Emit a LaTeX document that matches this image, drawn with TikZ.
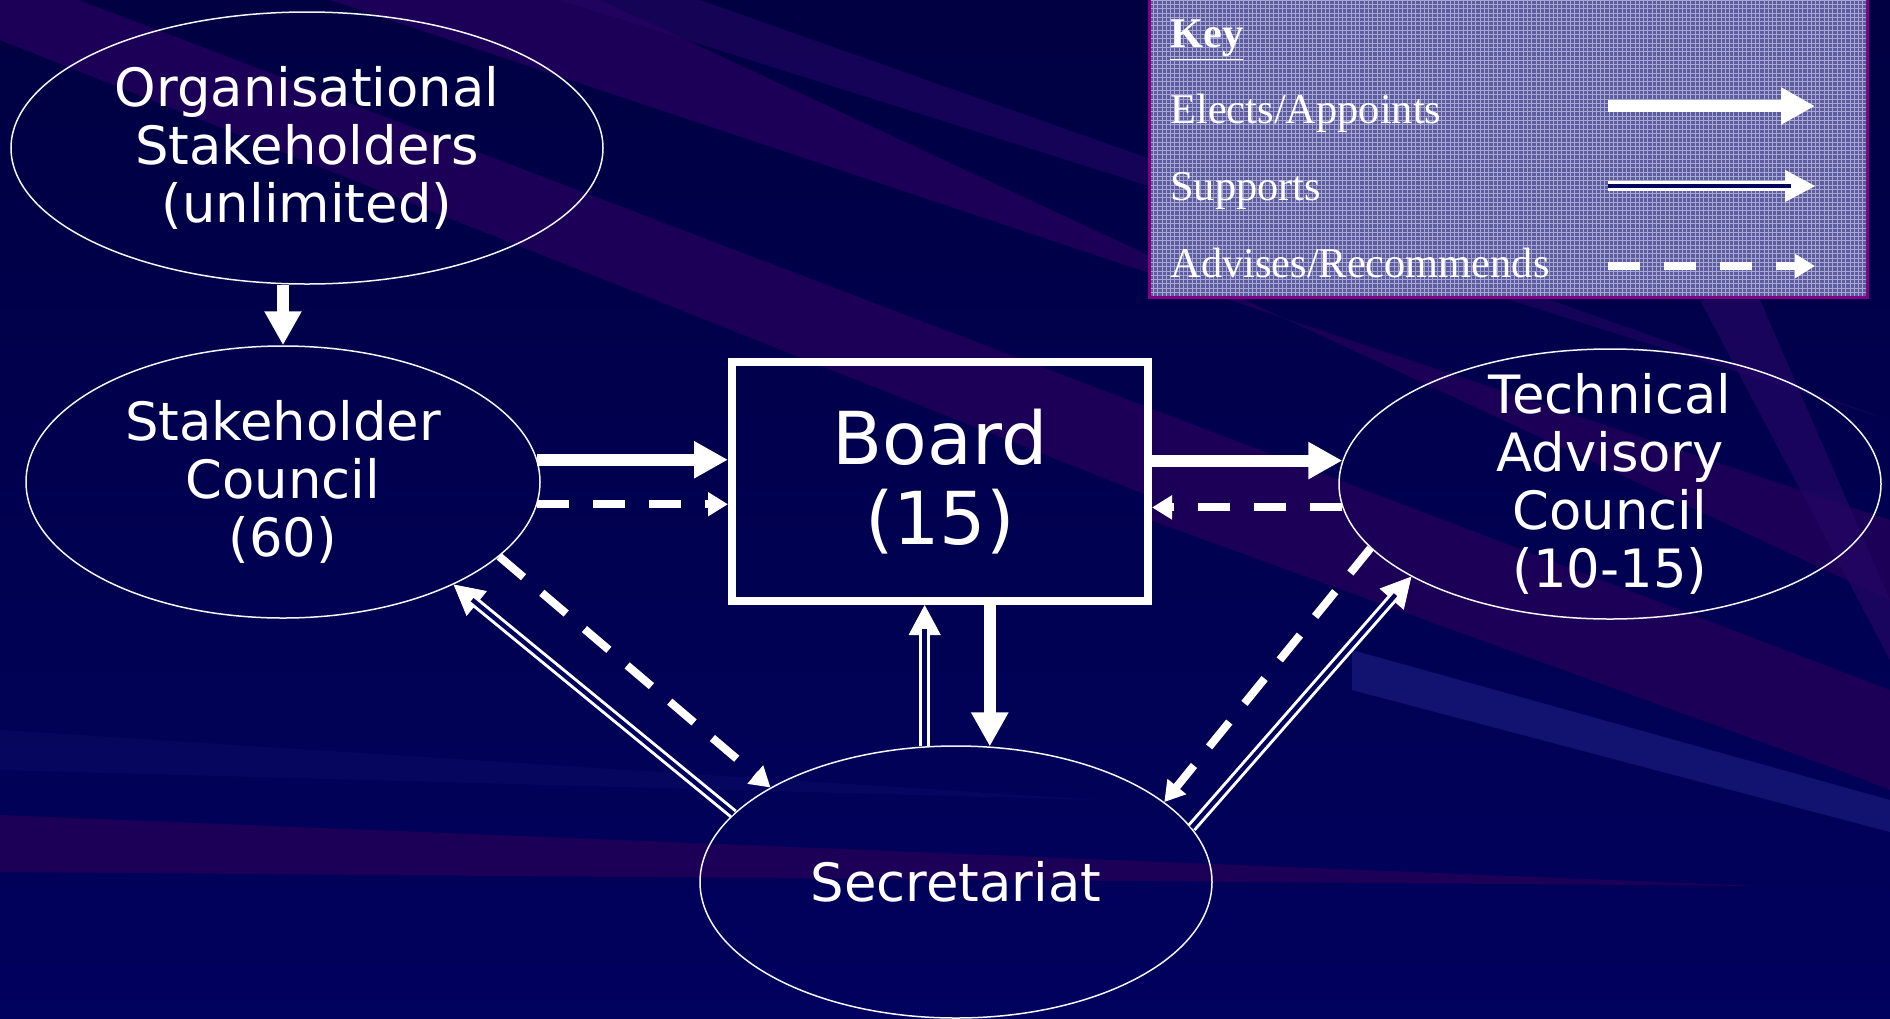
\documentclass[tikz,border=0pt]{standalone}
\usepackage{fontspec}
\setmainfont{DejaVu Sans}
\newfontfamily\keyfont{Liberation Serif}
\usetikzlibrary{arrows.meta,shapes.geometric,calc}
\definecolor{bgnavy}{RGB}{1,1,94}
\definecolor{bgdark}{RGB}{0,0,66}
\definecolor{raypurple}{RGB}{28,0,88}
\definecolor{raypurple2}{RGB}{36,6,100}
\definecolor{raylight}{RGB}{18,18,112}
\definecolor{keyfill}{RGB}{92,92,158}
\definecolor{keygrid}{RGB}{168,168,212}
\definecolor{keyborder}{RGB}{130,0,130}
\begin{document}
\begin{tikzpicture}[x=0.5pt,y=-0.5pt,
  bubble/.style={ellipse, draw=white!92!gray, line width=0.75pt, inner sep=0pt},
  bubbletext/.style={text=white, align=center, font=\fontsize{26.4}{29}\selectfont},
  boardbox/.style={rectangle, draw=white, line width=4pt, inner sep=0pt, text=white, align=center,
    font=\fontsize{36.5}{40}\selectfont, minimum width=208pt, minimum height=119.5pt},
  elects/.style={draw=white, line width=6pt, -{Triangle[length=17pt,width=17.5pt]}},
  supline/.style={draw=white, line width=1.5pt, double=bgnavy, double distance=2.2pt, shorten >=12pt},
  suptip/.style={draw=white, line width=0.4pt, -{Triangle[length=15pt,width=16pt]}},
  advises/.style={draw=white, line width=4pt, dash pattern=on 16pt off 12pt, -{Triangle[length=10pt,width=11.5pt]}},
  keytext/.style={text=white, anchor=base west, inner sep=0pt, font=\keyfont\fontsize{21.2}{24}\selectfont}
]
% ---------- background ----------
\useasboundingbox (0,0) rectangle (1890,1018);
\fill[top color=bgdark, bottom color=bgnavy] (0,0) rectangle (1890,1018);
\begin{scope}
\clip (0,0) rectangle (1890,1018);
\fill[raypurple] (0,-30) -- (0,40) -- (1890,790) -- (1890,690) -- cycle;
\fill[raypurple] (330,0) -- (600,0) -- (1890,600) -- (1890,520) -- cycle;
\fill[raypurple2, opacity=0.6] (560,0) -- (700,0) -- (1890,420) -- cycle;
\fill[raypurple] (1150,440) -- (1150,520) -- (1880,785) -- cycle;
\fill[raylight] (1352,650) -- (1352,690) -- (1890,832) -- (1890,800) -- cycle;
\fill[raypurple] (0,815) -- (0,872) -- (1760,886) -- cycle;
\fill[raylight, opacity=0.3] (0,730) -- (0,770) -- (1100,800) -- cycle;
\fill[raypurple2, opacity=0.7] (1700,300) -- (1760,300) -- (1890,600) -- (1890,660) -- cycle;
\end{scope}
% ---------- key ----------
\begin{scope}
\clip (1149,0) rectangle (1867,297);
\fill[keyfill] (1149,0) rectangle (1867,297);
\foreach \i in {0,...,167} \draw[keygrid, line width=0.35pt] ({1149+\i*4.3},0) -- ({1149+\i*4.3},297);
\foreach \j in {0,...,69} \draw[keygrid, line width=0.35pt] (1149,{\j*4.3}) -- (1867,{\j*4.3});
\end{scope}
\draw[keyborder, line width=1.5pt] (1149,-5) rectangle (1867,297);
\node[keytext, font=\keyfont\bfseries\fontsize{21.2}{24}\selectfont] (keyt) at (1170,47) {\underline{Key}};
\node[keytext] (kel) at (1170,123) {Elects/Appoints};
\node[keytext] (ksu) at (1170,200) {Supports};
\node[keytext] (kad) at (1170,277) {Advises/Recommends};
\coordinate (ka1) at (1608,106); \coordinate (kb1) at (1815,106);
\coordinate (ka2) at (1608,186); \coordinate (kb2) at (1815,186);
\coordinate (ka3) at (1608,266); \coordinate (kb3) at (1815,266);
\draw[elects] (ka1) -- (kb1);
\draw[suptip] (ka2) -- (kb2);
\draw[supline] (ka2) -- (kb2);
\draw[advises] (ka3) -- (kb3);
% ---------- nodes ----------
\node[bubble, minimum width=296pt, minimum height=136pt, label={[bubbletext]center:Organisational\\Stakeholders\\(unlimited)}] (org) at (307,148) {};
\node[bubble, minimum width=257pt, minimum height=136pt, label={[bubbletext]center:Stakeholder\\Council\\(60)}] (sc) at (283,482) {};
\node[bubble, minimum width=271pt, minimum height=135pt, label={[bubbletext]center:Technical\\Advisory\\Council\\(10-15)}] (tac) at (1610,484) {};
\node[bubble, minimum width=256pt, minimum height=136pt, label={[bubbletext]center:Secretariat}] (sec) at (956,882) {};
\node[boardbox] (board) at (940,481.5) {Board\\(15)};
% ---------- connectors ----------
\draw[elects] (org.south -| sc.north) -- (sc.north);
\draw[elects] (sc.5.3) -- (sc.5.3 -| board.west);
\draw[advises] (sc.-5.1) -- (sc.-5.1 -| board.west);
\draw[elects] (board.east |- tac.175.5) -- (tac.175.5);
\draw[advises] (tac.185.5) -- (board.east |- tac.185.5);
\draw[elects] (board.south -| sec.76.7) -- (sec.76.7);
\draw[suptip] (sec.103.3) -- (sec.103.3 |- board.south);
\draw[supline] (sec.103.3) -- (sec.103.3 |- board.south);
\draw[advises] (sc.-19.5) -- (sec.153.8);
\draw[suptip] (sec.163.3) -- (sc.-31);
\draw[supline] (sec.163.3) -- (sc.-31);
\draw[advises] (tac.195.1) -- (sec.21.7);
\draw[suptip] (sec.13.6) -- (tac.205);
\draw[supline] (sec.13.6) -- (tac.205);
\end{tikzpicture}
\end{document}
